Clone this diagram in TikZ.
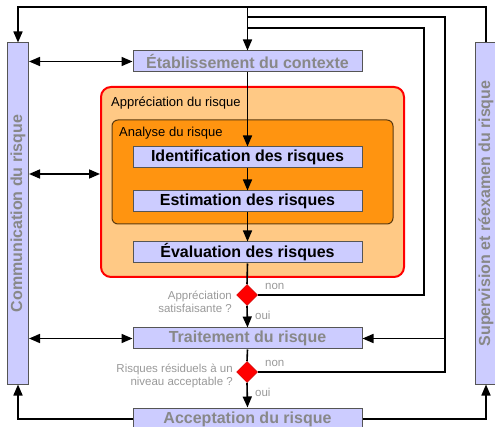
\documentclass[tikz,border=0pt]{standalone}
\usepackage{fontspec}
\setmainfont{Liberation Sans}
\usetikzlibrary{arrows.meta,shapes.geometric}
\definecolor{boxfill}{HTML}{CCCCFF}
\definecolor{boxline}{HTML}{555555}
\definecolor{graytxt}{HTML}{888888}
\definecolor{labtxt}{HTML}{999999}
\definecolor{lightor}{HTML}{FFC985}
\definecolor{darkor}{HTML}{FF9410}
\definecolor{brownline}{HTML}{5A3A10}
\tikzset{
  box/.style={draw=boxline, line width=1pt, fill=boxfill, inner sep=0pt, font=\fontsize{16}{18}\selectfont\bfseries},
  graybox/.style={box, text=graytxt},
  blackbox/.style={box, text=black},
  wire/.style={line width=1.6pt, black},
  arr/.style={wire, -{Triangle[length=11pt,width=9pt]}},
  darr/.style={wire, {Triangle[length=11pt,width=9pt]}-{Triangle[length=11pt,width=9pt]}},
  lab/.style={text=labtxt, font=\fontsize{11.5}{13}\selectfont, inner sep=0pt},
  dec/.style={diamond, aspect=1, fill=red, draw=red!80!black, line width=0.5pt, minimum size=21pt, inner sep=0pt},
  ttl/.style={font=\fontsize{13}{15}\selectfont, inner sep=0pt, anchor=west, text=black},
}
\begin{document}
\begin{tikzpicture}[x=1pt,y=-1pt]
\useasboundingbox (0,0) rectangle (495,427);
% big containers
\node[draw=red, line width=2pt, fill=lightor, rounded corners=10pt, minimum width=303pt, minimum height=190pt] (appr) at (252.5,182) {};
\node[draw=brownline, line width=1pt, fill=darkor, rounded corners=6pt, minimum width=281pt, minimum height=104pt] (anal) at (252.5,172) {};
\node[ttl] (apprt) at (111,103.5) {Appréciation du risque};
\node[ttl] (analt) at (119,133) {Analyse du risque};
% side boxes
\node[box, minimum width=21pt, minimum height=341pt] (comm) at (18,213.5) {};
\node[graybox, rotate=90, draw=none, fill=none] (commt) at (comm.center) {Communication du risque};
\node[box, minimum width=21pt, minimum height=341pt] (sup) at (486,213.5) {};
\node[graybox, rotate=90, draw=none, fill=none] (supt) at (sup.center) {Supervision et réexamen du risque};
% process boxes
\node[graybox, minimum width=229pt, minimum height=21pt] (etab) at (247.5,61.5) {Établissement du contexte};
\node[blackbox, minimum width=229pt, minimum height=21pt] (ident) at (247.5,157.5) {Identification des risques};
\node[blackbox, minimum width=229pt, minimum height=21pt] (estim) at (247.5,201.5) {Estimation des risques};
\node[blackbox, minimum width=229pt, minimum height=21pt] (eval) at (247.5,252.5) {Évaluation des risques};
\node[graybox, minimum width=229pt, minimum height=21pt] (trait) at (247.5,338.5) {Traitement du risque};
\node[graybox, minimum width=229pt, minimum height=22pt] (accept) at (247.5,419) {Acceptation du risque};
% decisions
\node[dec] (d1) at (247,295) {};
\node[dec] (d2) at (247,372) {};
\node[lab, anchor=east, align=right] (q1) at (232,301.5) {Appréciation\\satisfaisante ?};
\node[lab, anchor=east, align=right] (q2) at (233,375.5) {Risques résiduels à un\\niveau acceptable ?};
\node[lab, anchor=west] (non1) at (265,286) {non};
\node[lab, anchor=west] (oui1) at (255,315) {oui};
\node[lab, anchor=west] (non2) at (265,363) {non};
\node[lab, anchor=west] (oui2) at (255,392) {oui};
% helper coordinates
\coordinate (top) at (247,7);
\coordinate (r2) at (445,17);
\coordinate (r1) at (424,28);
% top loop
\draw[arr] (sup.north) -- (sup.north |- top) -- (comm.north |- top) -- (comm.north);
\draw[arr] (etab.north |- top) -- (etab.north);
% main flow
\draw[arr] (etab.south) -- (ident.north);
\draw[arr] (ident.south) -- (estim.north);
\draw[arr] (estim.south) -- (eval.north);
\draw[wire] (eval.south) -- (d1.north);
\draw[arr] (d1.south) -- (trait.north);
\draw[wire] (trait.south) -- (d2.north);
\draw[arr] (d2.south) -- (accept.north);
% feedback loops
\draw[wire] (d1.east) -| (r1) -- (r1 -| etab.north);
\draw[wire] (d2.east) -| (r2) -- (r2 -| etab.north);
\draw[arr] (r2 |- trait.east) -- (trait.east);
% bottom
\draw[arr] (accept.west) -| (comm.south);
\draw[arr] (accept.east) -| (sup.south);
% communication links
\draw[darr] (comm.east |- etab.west) -- (etab.west);
\draw[darr] (comm.east |- 0,174) -- (appr.west |- 0,174);
\draw[darr] (comm.east |- trait.west) -- (trait.west);
\end{tikzpicture}
\end{document}
